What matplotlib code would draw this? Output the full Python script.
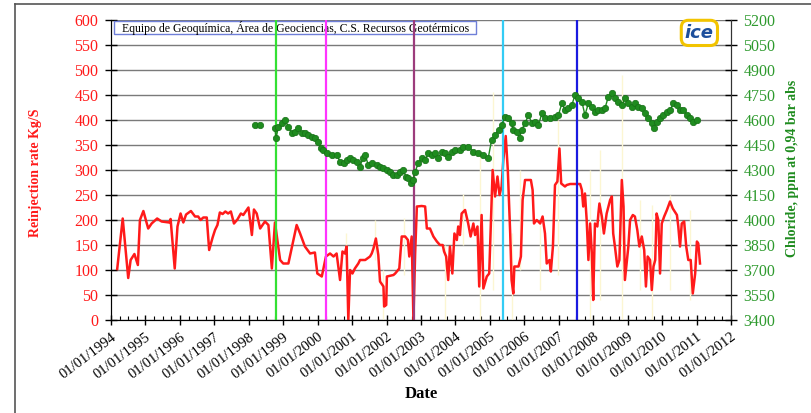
import matplotlib
matplotlib.use("Agg")
import numpy as np
import matplotlib.pyplot as plt
from matplotlib.lines import Line2D
from matplotlib.patches import Rectangle
from matplotlib.ticker import MultipleLocator

plt.rcParams['font.family'] = ['Liberation Serif', 'DejaVu Serif']

# Reinjection rate (kg/s), decimal year
rate_year = [1994.18, 1994.34, 1994.50, 1994.57, 1994.68, 1994.78, 1994.84, 1994.94, 1995.08, 1995.18,
             1995.34, 1995.47, 1995.69, 1995.73, 1995.85, 1995.93, 1996.02, 1996.10, 1996.18, 1996.32,
             1996.44, 1996.53, 1996.60, 1996.68, 1996.78, 1996.85, 1996.95, 1997.02, 1997.09, 1997.16,
             1997.24, 1997.32, 1997.40, 1997.48, 1997.57, 1997.67, 1997.77, 1997.84, 1997.99, 1998.09,
             1998.15, 1998.23, 1998.33, 1998.47, 1998.57, 1998.67, 1998.76, 1998.91, 1999.00, 1999.15,
             1999.39, 1999.49, 1999.63, 1999.78, 1999.92, 1999.99, 2000.12, 2000.24, 2000.36, 2000.46,
             2000.55, 2000.65, 2000.72, 2000.79, 2000.84, 2000.89, 2000.94, 2001.01, 2001.08, 2001.18,
             2001.23, 2001.38, 2001.52, 2001.57, 2001.62, 2001.69, 2001.76, 2001.81, 2001.91, 2001.93,
             2001.99, 2002.01, 2002.20, 2002.25, 2002.37, 2002.44, 2002.54, 2002.62, 2002.66, 2002.73,
             2002.78, 2002.83, 2002.88, 2003.02, 2003.12, 2003.17, 2003.26, 2003.36, 2003.46, 2003.55,
             2003.63, 2003.67, 2003.73, 2003.79, 2003.84, 2003.91, 2003.97, 2004.04, 2004.08, 2004.13,
             2004.18, 2004.28, 2004.37, 2004.44, 2004.52, 2004.57, 2004.64, 2004.69, 2004.76, 2004.81,
             2004.91, 2004.98, 2005.08, 2005.15, 2005.22, 2005.28, 2005.34, 2005.39, 2005.46, 2005.52,
             2005.59, 2005.63, 2005.68, 2005.71, 2005.83, 2005.90, 2005.95, 2006.02, 2006.19, 2006.24,
             2006.28, 2006.36, 2006.46, 2006.53, 2006.60, 2006.65, 2006.73, 2006.77, 2006.83, 2006.89,
             2006.96, 2007.02, 2007.07, 2007.18, 2007.23, 2007.33, 2007.62, 2007.67, 2007.71, 2007.76,
             2007.81, 2007.86, 2007.91, 2007.96, 2008.00, 2008.05, 2008.12, 2008.15, 2008.18, 2008.25,
             2008.31, 2008.39, 2008.49, 2008.54, 2008.58, 2008.63, 2008.70, 2008.76, 2008.83, 2008.88,
             2008.92, 2008.97, 2009.02, 2009.07, 2009.15, 2009.21, 2009.28, 2009.34, 2009.41, 2009.48,
             2009.53, 2009.58, 2009.65, 2009.70, 2009.75, 2009.80, 2009.84, 2009.89, 2009.94, 2009.99,
             2010.06, 2010.14, 2010.23, 2010.31, 2010.43, 2010.47, 2010.52, 2010.57, 2010.64, 2010.70,
             2010.76, 2010.83, 2010.89, 2010.96, 2011.01, 2011.05, 2011.10]
rate_val = [102, 203, 84, 120, 132, 110, 200, 218, 183, 193,
            203, 197, 195, 202, 103, 187, 213, 195, 211, 218,
            207, 207, 200, 205, 205, 140, 165, 180, 190, 215,
            212, 217, 213, 217, 193, 201, 213, 210, 225, 170,
            221, 213, 183, 197, 190, 103, 195, 120, 113, 113,
            190, 173, 147, 133, 135, 93, 87, 127, 133, 127,
            133, 80, 137, 133, 147, 0, 100, 93, 103, 113,
            120, 120, 127, 133, 143, 163, 130, 77, 67, 27,
            30, 87, 90, 93, 103, 167, 167, 160, 127, 167,
            0, 133, 227, 228, 227, 183, 183, 167, 157, 150,
            150, 137, 127, 80, 147, 93, 173, 160, 187, 170,
            213, 220, 193, 167, 193, 170, 187, 67, 210, 63,
            87, 93, 300, 247, 287, 250, 267, 320, 368, 300,
            173, 80, 53, 107, 107, 127, 240, 280, 280, 260,
            193, 200, 193, 207, 173, 113, 120, 97, 147, 270,
            277, 343, 273, 267, 270, 272, 272, 260, 227, 253,
            200, 120, 193, 133, 40, 193, 187, 213, 233, 207,
            173, 213, 240, 247, 173, 147, 107, 120, 280, 227,
            80, 113, 147, 200, 210, 207, 180, 147, 167, 140,
            67, 127, 120, 60, 107, 120, 213, 200, 93, 193,
            207, 220, 237, 223, 210, 187, 147, 193, 197, 147,
            120, 120, 53, 93, 157, 153, 113]

# Raw daily spikes (pale trace behind the rate)
spike_year = [2000.82, 2001.67, 2001.90, 2002.51, 2003.70, 2004.22, 2004.71, 2005.09, 2005.64, 2005.88,
              2006.46, 2006.98, 2007.91, 2008.20, 2008.84, 2009.36, 2009.71, 2010.23, 2010.81]
spike_lo = [100, 120, 0, 90, 0, 150, 0, 60, 0, 100, 60, 90, 0, 40, 0, 60, 0, 60, 40]
spike_hi = [175, 200, 100, 205, 150, 253, 340, 456, 175, 300, 190, 400, 300, 340, 490, 240, 230, 250, 220]

# Chloride (ppm at 0.94 bar abs)
cl_year = [1998.18, 1998.33, np.nan, 1998.76, 1998.79, 1998.86, 1998.96, 1999.05, 1999.15, 1999.25,
           1999.34, 1999.44, 1999.54, 1999.63, 1999.73, 1999.83, 1999.92, 2000.02, 2000.09, 2000.16,
           2000.26, 2000.41, 2000.55, 2000.65, 2000.75, 2000.84, 2000.94, 2001.04, 2001.13, 2001.23,
           2001.31, 2001.38, 2001.47, 2001.57, 2001.72, 2001.81, 2001.91, 2002.01, 2002.10, 2002.20,
           2002.30, 2002.39, 2002.49, 2002.56, 2002.63, 2002.70, 2002.76, 2002.83, 2002.92, 2003.02,
           2003.12, 2003.21, 2003.31, 2003.41, 2003.50, 2003.60, 2003.70, 2003.79, 2003.89, 2003.99,
           2004.13, 2004.23, 2004.37, 2004.52, 2004.66, 2004.81, 2004.95, 2005.05, 2005.15, 2005.25,
           2005.34, 2005.44, 2005.54, 2005.63, 2005.68, 2005.78, 2005.86, 2005.92, 2006.02, 2006.12,
           2006.22, 2006.31, 2006.41, 2006.51, 2006.60, 2006.75, 2006.89, 2006.99, 2007.09, 2007.18,
           2007.28, 2007.38, 2007.47, 2007.57, 2007.67, 2007.76, 2007.86, 2007.96, 2008.05, 2008.15,
           2008.25, 2008.34, 2008.44, 2008.54, 2008.63, 2008.73, 2008.83, 2008.92, 2009.02, 2009.12,
           2009.21, 2009.31, 2009.41, 2009.50, 2009.60, 2009.70, 2009.75, 2009.84, 2009.94, 2010.04,
           2010.14, 2010.23, 2010.33, 2010.43, 2010.52, 2010.62, 2010.72, 2010.81, 2010.91, 2011.01]
cl_val = [4570, 4570, np.nan, 4550, 4490, 4560, 4580, 4600, 4560, 4520,
          4530, 4550, 4520, 4520, 4510, 4500, 4490, 4470, 4430, 4420,
          4400, 4390, 4390, 4350, 4340, 4360, 4370, 4360, 4350, 4320,
          4370, 4390, 4330, 4340, 4330, 4320, 4310, 4300, 4290, 4270,
          4270, 4290, 4300, 4260, 4250, 4220, 4240, 4290, 4340, 4370,
          4360, 4400, 4390, 4400, 4370, 4410, 4400, 4380, 4410, 4420,
          4420, 4440, 4440, 4410, 4400, 4390, 4370, 4480, 4510, 4540,
          4570, 4620, 4610, 4580, 4540, 4530, 4490, 4540, 4580, 4630,
          4580, 4590, 4570, 4640, 4610, 4610, 4620, 4630, 4700, 4660,
          4670, 4690, 4750, 4730, 4710, 4630, 4700, 4680, 4650, 4660,
          4660, 4670, 4740, 4760, 4730, 4710, 4690, 4730, 4700, 4680,
          4700, 4680, 4670, 4640, 4610, 4580, 4550, 4590, 4610, 4630,
          4650, 4660, 4700, 4690, 4660, 4660, 4630, 4610, 4590, 4600]

# event markers
event_year = [1998.79, 2000.24, 2002.80, 2005.38, 2007.53]
event_color = ['#33e033', '#ff33ff', '#9c3c7c', '#33ccf5', '#1a1ae0']

years = list(range(1994, 2013))
year_labels = ['01/01/%d' % y for y in years]
left_ticks = list(range(0, 601, 50))
right_ticks = list(range(3400, 5201, 150))

RED = '#ff1a1a'
GREEN = '#1f8c1f'

fig = plt.figure(figsize=(8.12, 4.13), dpi=100)
ax = fig.add_axes([111 / 812, 1 - 320 / 413, 620 / 812, 300 / 413])
ax2 = ax.twinx()

# pale raw data and rate
ax.vlines(spike_year, spike_lo, spike_hi, color='#fcf6d2', lw=1.0, zorder=1)
ax.plot(rate_year, rate_val, color=RED, lw=1.8, zorder=2)

ax.set_xlim(1994, 2012)
ax.set_ylim(0, 600)
ax.set_yticks(left_ticks)
ax.set_xticks(years)
ax.set_xticklabels(year_labels, rotation=37, ha='right', va='top', rotation_mode='anchor')
ax.xaxis.set_minor_locator(MultipleLocator(0.25))
ax.grid(axis='y', color='#7a7a7a', lw=1.0, zorder=0)
ax.set_axisbelow(True)

ax.tick_params(axis='y', which='major', direction='inout', length=8, width=1,
               labelsize=11.5, labelcolor=RED, pad=5)
ax.tick_params(axis='x', which='major', direction='inout', length=7, width=1,
               labelsize=10.5, pad=4)
ax.tick_params(axis='x', which='minor', direction='in', length=3, width=0.8)
for s in ['left', 'bottom', 'right']:
    ax.spines[s].set_color('#333333')
ax.spines['top'].set_visible(False)

ax.set_ylabel('Reinjection rate Kg/S', color=RED, fontsize=10, fontweight='bold')
ax.yaxis.set_label_coords(-0.111, 0.49)
ax.set_xlabel('Date', fontsize=12, fontweight='bold')
ax.xaxis.set_label_coords(0.5, -0.22)

# chloride and events on secondary axis
for yr, c in zip(event_year, event_color):
    ax2.axvline(yr, color=c, lw=1.6, zorder=1)
ax2.plot(cl_year, cl_val, color=GREEN, lw=1.0, marker='o', markersize=4.6,
         markerfacecolor=GREEN, markeredgecolor='#177017', markeredgewidth=0.5, zorder=3)
ax2.set_ylim(3400, 5200)
ax2.set_yticks(right_ticks)
ax2.tick_params(axis='y', direction='inout', length=8, width=1,
                labelsize=11.5, labelcolor='#2e9a2e', pad=5)
ax2.spines['right'].set_color('#333333')
ax2.spines['top'].set_visible(False)
ax2.set_ylabel('Chloride, ppm at 0,94 bar abs', color=GREEN, fontsize=10, fontweight='bold')
ax2.yaxis.set_label_coords(1.089, 0.505)

# header box
ax.add_patch(Rectangle((0.005, 0.952), 0.584, 0.045, transform=ax.transAxes,
                       facecolor='white', edgecolor='#6f7fd8', lw=1.0, zorder=5))
ax.text(0.018, 0.974, 'Equipo de Geoquímica, Área de Geociencias, C.S. Recursos Geotérmicos',
        transform=ax.transAxes, fontsize=8.5, va='center', ha='left', zorder=6)

# logo
ax2.text(0.949, 0.957, 'ice', transform=ax.transAxes, fontsize=13, fontweight='bold',
         style='italic', family='DejaVu Sans', color='#1d4f9c', ha='center', va='center', zorder=6,
         bbox=dict(boxstyle='round,pad=0.2,rounding_size=0.4', facecolor='white',
                   edgecolor='#f2c400', lw=2.2))

# outer frame
fig.add_artist(Line2D([15 / 812, 15 / 812], [0, 1 - 4 / 413], color='#555555', lw=1.2))
fig.add_artist(Line2D([15 / 812, 1], [1 - 4 / 413, 1 - 4 / 413], color='#555555', lw=1.2))

fig.savefig('out.png', dpi=100)
